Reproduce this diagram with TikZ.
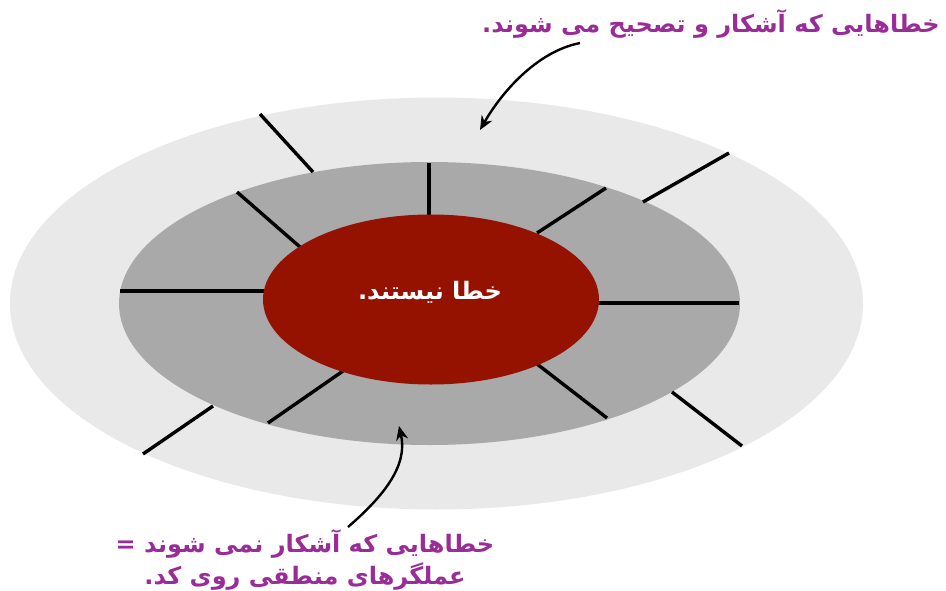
\documentclass[tikz,border=0pt]{standalone}
\usepackage{fontspec}
\usetikzlibrary{shapes.geometric,arrows.meta}
\newfontfamily\arabicfont[Script=Arabic]{DejaVu Sans}
\TeXXeTstate=1
\definecolor{outerc}{HTML}{E9E9E9}
\definecolor{midc}{HTML}{A9A9A9}
\definecolor{innerc}{HTML}{951100}
\definecolor{purp}{HTML}{9A2C98}
\tikzset{
  ring/.style={ellipse, inner sep=0pt, draw=none},
  spoke/.style={line width=3.4pt, black},
  lbl/.style={text=purp, font=\arabicfont\bfseries\fontsize{24}{32}\selectfont, inner sep=0pt, align=center},
  pointer/.style={line width=2.4pt, -{Stealth[length=14pt,width=12pt]}}
}
\begin{document}
\begin{tikzpicture}[x=1pt,y=-1pt]
\useasboundingbox (0,0) rectangle (946,590);
\node[ring, fill=outerc, minimum width=853pt, minimum height=412pt] (outer) at (436.5,303.5) {};
\node[ring, fill=midc, minimum width=621pt, minimum height=283pt] (middle) at (429.5,303.5) {};
% spokes
\draw[spoke] (260,114) -- (313,172);
\draw[spoke] (237,192) -- (300,247);
\draw[spoke] (429,163) -- (429,216);
\draw[spoke] (729,153) -- (643,202);
\draw[spoke] (606,188) -- (537,233);
\draw[spoke] (120,291) -- (266,291);
\draw[spoke] (598,303) -- (739,303);
\draw[spoke] (143,454) -- (213,406);
\draw[spoke] (268,423) -- (343,371);
\draw[spoke] (537,364) -- (607,418);
\draw[spoke] (672,392) -- (742,446);
\node[ring, fill=innerc, minimum width=336pt, minimum height=170pt] (inner) at (431,299.5) {};
\node[text=white, font=\arabicfont\bfseries\fontsize{24}{26}\selectfont, inner sep=0pt] (innertext) at (430,292) {\beginR خطا نیستند.\endR};
% labels
\node[lbl, anchor=east] (toplbl) at (940,24) {\beginR خطاهایی که آشکار و تصحیح می شوند.\endR};
\node[lbl] (botlbl) at (305,560) {\beginR خطاهایی که آشکار نمی شوند =\endR\\\beginR عملگرهای منطقی روی کد.\endR};
\coordinate (a1s) at (580,43);
\coordinate (a1e) at (480,130);
\coordinate (a2s) at (348,527);
\coordinate (a2e) at (399,426);
\draw[pointer] (a1s) .. controls (535,52) and (500,95) .. (a1e);
\draw[pointer] (a2s) .. controls (385,495) and (408,465) .. (a2e);
\end{tikzpicture}
\end{document}
